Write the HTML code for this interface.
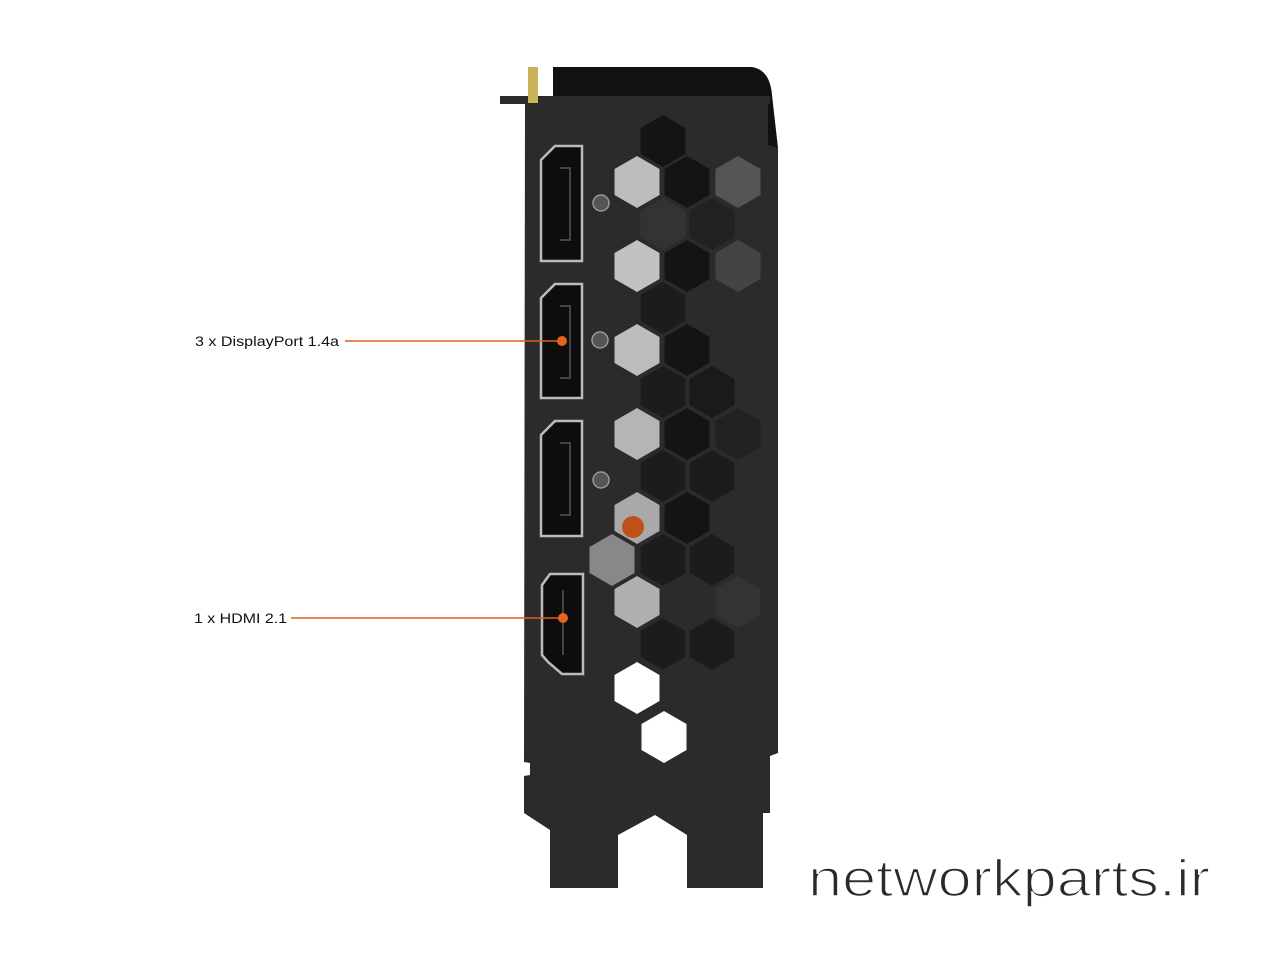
<!DOCTYPE html>
<html><head><meta charset="utf-8"><style>
html,body{margin:0;padding:0;background:#fff;}
svg{display:block}
</style></head><body>
<svg width="1280" height="960" viewBox="0 0 1280 960" xmlns="http://www.w3.org/2000/svg">
<defs>
<polygon id="hx" points="0,-26 22.5,-13 22.5,13 0,26 -22.5,13 -22.5,-13"/>
</defs>
<!-- top cap -->
<path d="M553,67 L752,67 Q770,70 772,95 L778,148 L553,148 Z" fill="#111"/>
<rect x="500" y="96" width="270" height="8" fill="#2a2a2a"/>
<rect x="528" y="67" width="10" height="42" fill="#c9b25a"/>
<!-- body -->
<path d="M525,103 L768,103 L768,145 L778,148 L778,753 L770,756 L770,813 L763,813 L763,888 L687,888 L687,835 L655,815 L618,835 L618,888 L550,888 L550,830 L524,813 L524,776 L530,775 L530,763 L524,762 Z" fill="#2b2b2b"/>
<!-- hexes -->
<g fill="#141414">
<use href="#hx" x="663" y="141"/>
<use href="#hx" x="637" y="182" fill="#bdbdbd"/>
<use href="#hx" x="687" y="182"/>
<use href="#hx" x="738" y="182" fill="#555"/>
<use href="#hx" x="663" y="224" fill="#333"/>
<use href="#hx" x="712" y="224" fill="#222"/>
<use href="#hx" x="637" y="266" fill="#c2c2c2"/>
<use href="#hx" x="687" y="266"/>
<use href="#hx" x="738" y="266" fill="#444"/>
<use href="#hx" x="663" y="308" fill="#1c1c1c"/>
<use href="#hx" x="637" y="350" fill="#bcbcbc"/>
<use href="#hx" x="687" y="350"/>
<use href="#hx" x="663" y="392" fill="#1c1c1c"/>
<use href="#hx" x="712" y="392" fill="#1a1a1a"/>
<use href="#hx" x="637" y="434" fill="#b5b5b5"/>
<use href="#hx" x="687" y="434"/>
<use href="#hx" x="738" y="434" fill="#222"/>
<use href="#hx" x="663" y="476" fill="#1c1c1c"/>
<use href="#hx" x="712" y="476" fill="#1c1c1c"/>
<use href="#hx" x="637" y="518" fill="#a9a9a9"/>
<use href="#hx" x="687" y="518"/>
<use href="#hx" x="612" y="560" fill="#888"/>
<use href="#hx" x="663" y="560" fill="#1c1c1c"/>
<use href="#hx" x="712" y="560" fill="#1c1c1c"/>
<use href="#hx" x="637" y="602" fill="#b0b0b0"/>
<use href="#hx" x="738" y="602" fill="#333"/>
<use href="#hx" x="663" y="644" fill="#1c1c1c"/>
<use href="#hx" x="712" y="644" fill="#1c1c1c"/>
<use href="#hx" x="637" y="688" fill="#ffffff"/>
<use href="#hx" x="664" y="737" fill="#ffffff"/>
</g>
<circle cx="633" cy="527" r="11" fill="#c0501a"/>
<!-- ports -->
<g fill="#0d0d0d" stroke="#bbb" stroke-width="2.5">
<path d="M541,160 L555,146 L582,146 L582,261 L541,261 Z"/>
<path d="M541,298 L555,284 L582,284 L582,398 L541,398 Z"/>
<path d="M541,435 L555,421 L582,421 L582,536 L541,536 Z"/>
<path d="M542,585 L550,574 L583,574 L583,674 L562,674 L548,662 L542,655 Z"/>
</g>
<g stroke="#444" stroke-width="2" fill="none">
<path d="M560,168 L570,168 L570,240 L560,240"/>
<path d="M560,306 L570,306 L570,378 L560,378"/>
<path d="M560,443 L570,443 L570,515 L560,515"/>
<line x1="563" y1="590" x2="563" y2="655"/>
</g>
<g fill="#555" stroke="#999" stroke-width="1.5">
<circle cx="601" cy="203" r="8"/><circle cx="600" cy="340" r="8"/><circle cx="601" cy="480" r="8"/>
</g>
<!-- labels -->
<g font-family="Liberation Sans, sans-serif" font-size="14" fill="#111">
<text x="195" y="346" textLength="144" lengthAdjust="spacingAndGlyphs">3 x DisplayPort 1.4a</text>
<text x="194" y="623" textLength="93" lengthAdjust="spacingAndGlyphs">1 x HDMI 2.1</text>
</g>
<line x1="345" y1="341" x2="562" y2="341" stroke="#d9601e" stroke-width="1.5"/>
<circle cx="562" cy="341" r="5" fill="#e8621e"/>
<line x1="291" y1="618" x2="563" y2="618" stroke="#d9601e" stroke-width="1.5"/>
<circle cx="563" cy="618" r="5" fill="#e8621e"/>
<text x="808" y="896" font-family="Liberation Sans, sans-serif" font-size="52" fill="#2a2a2a" stroke="#fff" stroke-width="1.6" paint-order="normal" textLength="402" lengthAdjust="spacingAndGlyphs">networkparts.ir</text>
</svg>
</body></html>
